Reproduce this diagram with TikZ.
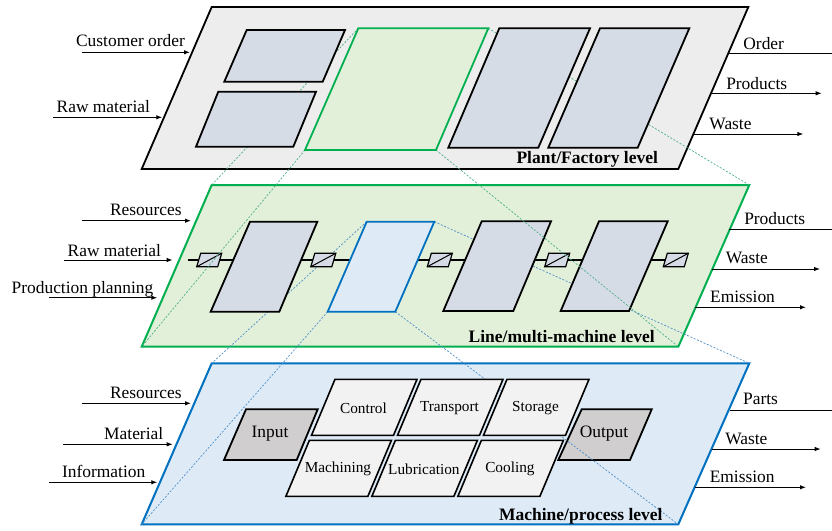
\documentclass[tikz,border=0pt]{standalone}
\usepackage{fontspec}
\setmainfont{Liberation Serif}
\usetikzlibrary{arrows.meta}

\definecolor{planegray}{HTML}{EDEDED}
\definecolor{boxgray}{HTML}{D6DCE5}
\definecolor{lvlgreen}{HTML}{00B050}
\definecolor{fillgreen}{HTML}{E2F0D9}
\definecolor{lvlblue}{HTML}{0070C0}
\definecolor{fillblue}{HTML}{DEEBF7}
\definecolor{iogray}{HTML}{D0CECE}
\definecolor{cellgray}{HTML}{F2F2F2}
\definecolor{projgreen}{HTML}{4DAF8A}
\definecolor{projblue}{HTML}{4F8FC8}

\begin{document}
\begin{tikzpicture}[x=1pt,y=-1pt,
  toplane/.style={fill=planegray,draw=black,line width=1.8pt,line join=miter},
  midplane/.style={fill=fillgreen,draw=lvlgreen,line width=2pt},
  botplane/.style={fill=fillblue,draw=lvlblue,line width=2pt},
  unitbox/.style={fill=boxgray,draw=black,line width=1.8pt},
  greenunit/.style={fill=fillgreen,draw=lvlgreen,line width=1.8pt},
  blueunit/.style={fill=fillblue,draw=lvlblue,line width=1.8pt},
  iobox/.style={fill=iogray,draw=black,line width=1.8pt},
  cellbox/.style={fill=cellgray,draw=black,line width=1.6pt},
  sqbox/.style={fill=boxgray,draw=black,line width=1.2pt},
  projg/.style={draw=projgreen,line width=0.7pt,dash pattern=on 2pt off 1.6pt},
  projb/.style={draw=projblue,line width=0.7pt,dash pattern=on 2pt off 1.6pt},
  flow/.style={line width=1pt,-{Latex[length=6pt,width=4.5pt]}},
  flowcut/.style={line width=1pt},
  lbl/.style={font=\fontsize{17.4}{20}\selectfont,inner sep=0pt,anchor=base},
  lvl/.style={font=\fontsize{17.5}{20}\selectfont\bfseries,inner sep=0pt,anchor=base},
  celltext/.style={font=\fontsize{15.3}{18}\selectfont,inner sep=0pt},
  iotext/.style={font=\fontsize{17.4}{20}\selectfont,inner sep=0pt}]

\useasboundingbox (0,0) rectangle (832,530);

% ---------- level planes ----------
\filldraw[toplane] (211.7,7) -- (748.3,7) -- (678.3,169) -- (141.7,169) -- cycle;
\filldraw[midplane] (211.7,185) -- (749.3,185) -- (678.3,346.7) -- (141.7,346.7) -- cycle;
\filldraw[botplane] (211.7,363.3) -- (749.3,363.3) -- (678.3,524.3) -- (141.7,524.3) -- cycle;

% machine level: input and output stations
\filldraw[iobox] (246,409.3) -- (317.7,409.3) -- (296.7,460) -- (224,460) -- cycle;
\node[iotext] (input) at (270,434) {Input};
\filldraw[iobox] (581.7,409.3) -- (651.7,409.3) -- (630,460) -- (558.3,460) -- cycle;
\node[iotext] (output) at (604,434) {Output};

% projection of the selected machine onto the machine level
\draw[projb] (366.7,221.7) -- (211.7,363.3);
\draw[projb] (327.7,311.7) -- (141.7,524.3);
\draw[projb] (434.3,221.7) -- (749.3,363.3);
\draw[projb] (395.3,311.7) -- (678.3,524.3);

% ---------- line level: conveyor, buffers and machines ----------
\draw[line width=2.4pt] (187.7,260) -- (670,260);
\foreach \cx/\nm in {209.2/sq1,323.3/sq2,439.8/sq3,557.2/sq4,675.8/sq5}{
  \filldraw[sqbox] ({\cx-8.5},253.3) -- ({\cx+12.5},253.3) -- ({\cx+8.5},266.7) -- ({\cx-12.5},266.7) -- cycle;
  \draw[line width=1pt] ({\cx-12.5},266.7) -- ({\cx+12.5},253.3);
  \coordinate (\nm) at (\cx,260);
}
\filldraw[unitbox] (250,221.7) -- (317.3,221.7) -- (279.3,311.7) -- (210.7,311.7) -- cycle;
\filldraw[blueunit] (366.7,221.7) -- (434.3,221.7) -- (395.3,311.7) -- (327.7,311.7) -- cycle;
\filldraw[unitbox] (481.7,221.3) -- (551,221.3) -- (513.3,311) -- (443.3,311) -- cycle;
\filldraw[unitbox] (599,221.3) -- (667.7,221.3) -- (629,311) -- (560.7,311) -- cycle;

% ---------- machine level: functional cells ----------
\foreach \c/\r/\t in {0/0/Control,1/0/Transport,2/0/Storage,0/1/Machining,1/1/Lubrication,2/1/Cooling}{
  \pgfmathsetmacro\L{335+86*\c-25.6*\r}
  \pgfmathsetmacro\T{379.3+61*\r}
  \filldraw[cellbox] (\L,\T) -- ({\L+82},\T) -- ({\L+82-23.5},{\T+56}) -- ({\L-23.5},{\T+56}) -- cycle;
  \node[celltext] (cell-\c-\r) at ({\L+41-12.5},{\T+29}) {\t};
}

% projection of the selected line onto the line level
\draw[projg] (358.3,28.3) -- (211.7,185);
\draw[projg] (305,150) -- (141.7,346.7);
\draw[projg] (488.3,28.3) -- (749.3,185);
\draw[projg] (436,150) -- (678.3,346.7);

% ---------- plant level units ----------
\filldraw[unitbox] (246.7,30) -- (345,30) -- (322.7,81.7) -- (224.3,81.7) -- cycle;
\filldraw[unitbox] (218.3,91.7) -- (316,91.7) -- (293.3,146.7) -- (196,146.7) -- cycle;
\filldraw[greenunit] (358.3,28.3) -- (488.3,28.3) -- (436,150) -- (305,150) -- cycle;
\filldraw[unitbox] (499.3,28.3) -- (590,28.3) -- (538.3,147.7) -- (448.3,147.7) -- cycle;
\filldraw[unitbox] (600,28.3) -- (689.3,28.3) -- (637.7,147.7) -- (548.3,147.7) -- cycle;

% ---------- level names ----------
\node[lvl] (lvl-plant) at (587.2,163.3) {Plant/Factory level};
\node[lvl] (lvl-line) at (561.7,342.3) {Line/multi-machine level};
\node[lvl] (lvl-mach) at (580.8,520) {Machine/process level};

% ---------- plant level flows ----------
\coordinate (p-in1s) at (81.7,52.3);   \coordinate (p-in1e) at (190,52.3);
\coordinate (p-in2s) at (53.3,117.3);  \coordinate (p-in2e) at (162.3,117.3);
\coordinate (p-out1s) at (728.5,53.3); \coordinate (p-out1e) at (832,53.3);
\coordinate (p-out2s) at (711.5,93.3); \coordinate (p-out2e) at (821.7,93.3);
\coordinate (p-out3s) at (694,134);    \coordinate (p-out3e) at (803.3,134);
\draw[flow] (p-in1s) -- (p-in1e);
\draw[flow] (p-in2s) -- (p-in2e);
\draw[flowcut] (p-out1s) -- (p-out1e);
\draw[flow] (p-out2s) -- (p-out2e);
\draw[flow] (p-out3s) -- (p-out3e);
\node[lbl] (t-cust) at (130.5,46.5) {Customer order};
\node[lbl] (t-raw1) at (103.3,112.5) {Raw material};
\node[lbl] (t-order) at (763.7,49) {Order};
\node[lbl] (t-prod1) at (756.7,89.5) {Products};
\node[lbl] (t-waste1) at (730.5,129) {Waste};

% ---------- line level flows ----------
\coordinate (l-in1s) at (81.7,220.7);  \coordinate (l-in1e) at (191,220.7);
\coordinate (l-in2s) at (64,260);      \coordinate (l-in2e) at (172.7,260);
\coordinate (l-in3s) at (49.3,297.7);  \coordinate (l-in3e) at (157.3,297.7);
\coordinate (l-out1s) at (729.3,229);  \coordinate (l-out1e) at (832,229);
\coordinate (l-out2s) at (711.7,269);  \coordinate (l-out2e) at (820,269);
\coordinate (l-out3s) at (695,307.3);  \coordinate (l-out3e) at (806,307.3);
\draw[flow] (l-in1s) -- (l-in1e);
\draw[flow] (l-in2s) -- (l-in2e);
\draw[flow] (l-in3s) -- (l-in3e);
\draw[flowcut] (l-out1s) -- (l-out1e);
\draw[flow] (l-out2s) -- (l-out2e);
\draw[flow] (l-out3s) -- (l-out3e);
\node[lbl] (t-res1) at (145.8,215.7) {Resources};
\node[lbl] (t-raw2) at (114.3,256.7) {Raw material};
\node[lbl] (t-plan) at (82.5,293) {Production planning};
\node[lbl] (t-prod2) at (774.7,224.3) {Products};
\node[lbl] (t-waste2) at (746.8,263.3) {Waste};
\node[lbl] (t-emis1) at (742.5,302.3) {Emission};

% ---------- machine level flows ----------
\coordinate (m-in1s) at (81.7,403.3);  \coordinate (m-in1e) at (191,403.3);
\coordinate (m-in2s) at (63.3,444.3);  \coordinate (m-in2e) at (172.7,444.3);
\coordinate (m-in3s) at (49,482.3);    \coordinate (m-in3e) at (157.3,482.3);
\coordinate (m-out1s) at (730,410);    \coordinate (m-out1e) at (832,410);
\coordinate (m-out2s) at (711.7,449);  \coordinate (m-out2e) at (820.7,449);
\coordinate (m-out3s) at (695,487.3);  \coordinate (m-out3e) at (806,487.3);
\draw[flow] (m-in1s) -- (m-in1e);
\draw[flow] (m-in2s) -- (m-in2e);
\draw[flow] (m-in3s) -- (m-in3e);
\draw[flowcut] (m-out1s) -- (m-out1e);
\draw[flow] (m-out2s) -- (m-out2e);
\draw[flow] (m-out3s) -- (m-out3e);
\node[lbl] (t-res2) at (145.8,398.3) {Resources};
\node[lbl] (t-mat) at (133.7,439.3) {Material};
\node[lbl] (t-info) at (103.7,477.7) {Information};
\node[lbl] (t-parts) at (760.5,404.3) {Parts};
\node[lbl] (t-waste3) at (746.3,444.3) {Waste};
\node[lbl] (t-emis2) at (742.2,482.7) {Emission};

\end{tikzpicture}
\end{document}
